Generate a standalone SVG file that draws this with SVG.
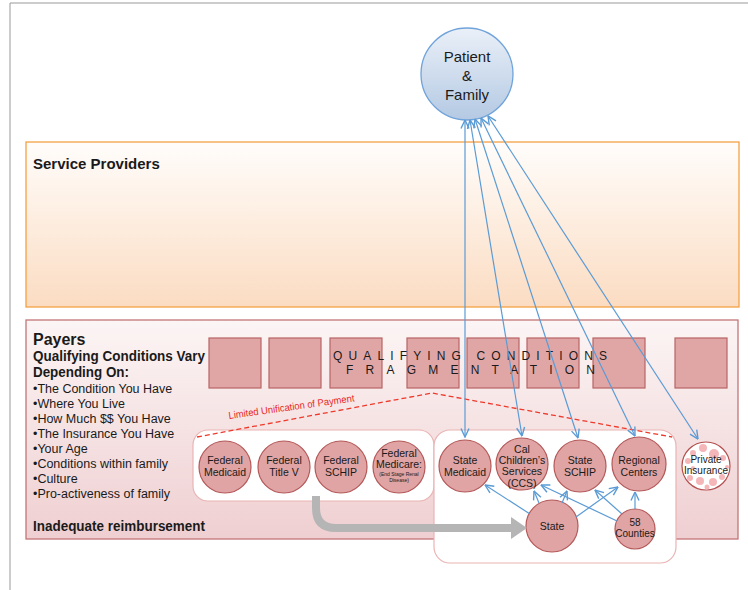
<svg xmlns="http://www.w3.org/2000/svg" width="748" height="590" viewBox="0 0 748 590">
<defs>
<linearGradient id="gPat" x1="0" y1="0" x2="0" y2="1"><stop offset="0" stop-color="#eaf0f8"/><stop offset="1" stop-color="#b4c9e3"/></linearGradient>
<linearGradient id="gSP" x1="0" y1="0" x2="0" y2="1"><stop offset="0" stop-color="#fffdfb"/><stop offset="1" stop-color="#fbdcc2"/></linearGradient>
<linearGradient id="gPay" x1="0" y1="0" x2="0" y2="1"><stop offset="0" stop-color="#fcf5f5"/><stop offset="1" stop-color="#efcfd1"/></linearGradient>
<marker id="ah" viewBox="0 0 10 10" refX="9.5" refY="5" markerWidth="10" markerHeight="10" orient="auto-start-reverse" markerUnits="userSpaceOnUse"><path d="M1,1 L9.5,5 L1,9" fill="none" stroke="#5b9bd5" stroke-width="1.4"/></marker>
<style>
text{font-family:"Liberation Sans",Arial,sans-serif;fill:#1a1a1a}
.c{fill:#e0a4a4;stroke:#b45858;stroke-width:1.2}
.sq{fill:#e0a6a6;stroke:#b86464;stroke-width:1.2}
.t{font-size:10.5px;text-anchor:middle}
.tiny{font-size:5px;text-anchor:middle}
.s10{font-size:10px;text-anchor:middle}
.b{font-weight:bold}
.bl{font-size:12.5px}
.ln{fill:none;stroke:#5b9bd5;stroke-width:1.2;marker-end:url(#ah)}
.ln2{fill:none;stroke:#5b9bd5;stroke-width:1.2;marker-start:url(#ah);marker-end:url(#ah)}
.box{fill:#fff;stroke:#eab4b4;stroke-width:1.2}
</style>
</defs>
<g id="frame"><path d="M10,590 L10,3 L748,3" fill="none" stroke="#999" stroke-width="1"/></g>

<g id="service-providers">
<rect x="26" y="142" width="713" height="165" fill="url(#gSP)" stroke="#f4a244" stroke-width="1.3"/>
<text x="33" y="169" class="b" font-size="15">Service Providers</text>
</g>

<g id="payers">
<rect x="26" y="320" width="712" height="219" fill="url(#gPay)" stroke="#c27676" stroke-width="1.3"/>
<text x="33" y="345" class="b" font-size="16">Payers</text>
<text x="33" y="361" class="b" font-size="14" textLength="172" lengthAdjust="spacingAndGlyphs">Qualifying Conditions Vary</text>
<text x="33" y="377" class="b" font-size="14" textLength="96" lengthAdjust="spacingAndGlyphs">Depending On:</text>
<text x="33" y="393" class="bl">•The Condition You Have</text>
<text x="33" y="408" class="bl">•Where You Live</text>
<text x="33" y="423" class="bl">•How Much $$ You Have</text>
<text x="33" y="438" class="bl">•The Insurance You Have</text>
<text x="33" y="453" class="bl">•Your Age</text>
<text x="33" y="468" class="bl">•Conditions within family</text>
<text x="33" y="483" class="bl">•Culture</text>
<text x="33" y="498" class="bl">•Pro-activeness of family</text>
<text x="33" y="531" class="b" font-size="14" textLength="172" lengthAdjust="spacingAndGlyphs">Inadequate reimbursement</text>
</g>

<g id="squares">
<rect class="sq" x="209" y="338" width="52" height="50"/>
<rect class="sq" x="269" y="338" width="52" height="50"/>
<rect class="sq" x="330" y="338" width="52" height="50"/>
<rect class="sq" x="407" y="338" width="52" height="50"/>
<rect class="sq" x="467" y="338" width="52" height="50"/>
<rect class="sq" x="527" y="338" width="52" height="50"/>
<rect class="sq" x="593" y="338" width="52" height="50"/>
<rect class="sq" x="675" y="338" width="52" height="50"/>
<text x="333" y="360" font-size="12" textLength="274" lengthAdjust="spacing">QUALIFYING CONDITIONS</text>
<text x="346" y="374" font-size="12" textLength="249" lengthAdjust="spacing">FRAGMENTATION</text>
</g>

<g id="federal-box"><rect class="box" x="193" y="430" width="241" height="71" rx="15"/></g>
<g id="state-box"><rect class="box" x="434" y="430" width="242" height="133" rx="16"/></g>

<g id="unification">
<path d="M197,437 L432,393 L672,437" fill="none" stroke="#ee3a2c" stroke-width="1.3" stroke-dasharray="5,3"/>
<text x="229" y="419" font-size="10" textLength="127" lengthAdjust="spacingAndGlyphs" transform="rotate(-8 229 419)" style="fill:#e8281e">Limited Unification of Payment</text>
</g>

<g id="federal-medicaid"><circle class="c" cx="225" cy="467" r="26"/><text class="t" x="225" y="464">Federal</text><text class="t" x="225" y="476">Medicaid</text></g>
<g id="federal-title-v"><circle class="c" cx="284" cy="467" r="26"/><text class="t" x="284" y="464">Federal</text><text class="t" x="284" y="476">Title V</text></g>
<g id="federal-schip"><circle class="c" cx="341" cy="467" r="26"/><text class="t" x="341" y="464">Federal</text><text class="t" x="341" y="476">SCHIP</text></g>
<g id="federal-medicare"><circle class="c" cx="399" cy="467" r="26"/><text class="t" x="399" y="457">Federal</text><text class="t" x="399" y="468">Medicare:</text><text class="tiny" x="399" y="476">(End Stage Renal</text><text class="tiny" x="399" y="482">Disease)</text></g>

<g id="state-medicaid"><circle class="c" cx="465" cy="466" r="26"/><text class="t" x="465" y="464">State</text><text class="t" x="465" y="476">Medicaid</text></g>
<g id="ccs"><circle class="c" cx="522" cy="464" r="26"/><text class="t" x="522" y="453">Cal</text><text class="t" x="522" y="464">Children’s</text><text class="t" x="522" y="475">Services</text><text class="t" x="522" y="487">(CCS)</text></g>
<g id="state-schip"><circle class="c" cx="580" cy="466" r="26"/><text class="t" x="580" y="464">State</text><text class="t" x="580" y="476">SCHIP</text></g>
<g id="regional-centers"><circle class="c" cx="639" cy="464" r="27"/><text class="t" x="639" y="464">Regional</text><text class="t" x="639" y="476">Centers</text></g>
<g id="state"><circle class="c" cx="552" cy="526" r="26"/><text class="t" x="552" y="530">State</text></g>
<g id="counties"><circle class="c" cx="635" cy="529" r="20"/><text class="s10" x="635" y="526">58</text><text class="s10" x="635" y="537">Counties</text></g>

<g id="private-insurance">
<circle cx="706" cy="466" r="24" fill="#fff" stroke="#b45050" stroke-width="1.2"/>
<g fill="#f4b6b8">
<circle cx="703" cy="448" r="4"/><circle cx="693" cy="453" r="3"/><circle cx="714" cy="454" r="5"/><circle cx="688" cy="461" r="3"/><circle cx="723" cy="458" r="3"/><circle cx="690" cy="478" r="3"/><circle cx="700" cy="481" r="4"/><circle cx="713" cy="482" r="4"/><circle cx="722" cy="477" r="3"/><circle cx="707" cy="487" r="2.5"/><circle cx="693" cy="468" r="2"/><circle cx="727" cy="467" r="2"/>
</g>
<text class="s10" x="706" y="463">Private</text><text class="s10" x="706" y="474">Insurance</text>
</g>

<g id="patient-family">
<circle cx="467" cy="74" r="46" fill="url(#gPat)" stroke="#6fa3da" stroke-width="1.3"/>
<text x="467" y="62" font-size="15" text-anchor="middle">Patient</text>
<text x="467" y="81" font-size="15" text-anchor="middle">&amp;</text>
<text x="467" y="100" font-size="15" text-anchor="middle">Family</text>
</g>

<g id="connectors">
<line class="ln2" x1="465" y1="120" x2="465" y2="437"/>
<line class="ln2" x1="470" y1="120" x2="522" y2="436"/>
<line class="ln2" x1="475" y1="119" x2="578" y2="438"/>
<line class="ln2" x1="481" y1="118" x2="635" y2="436"/>
<line class="ln2" x1="488" y1="116" x2="698" y2="439"/>
<line class="ln" x1="530" y1="514" x2="485" y2="485"/>
<line class="ln" x1="539" y1="503" x2="534" y2="491"/>
<line class="ln" x1="562" y1="503" x2="567" y2="491"/>
<line class="ln" x1="576" y1="517" x2="618" y2="487"/>
<line class="ln" x1="617" y1="521" x2="541" y2="485"/>
<line class="ln" x1="622" y1="514" x2="595" y2="490"/>
<line class="ln" x1="635" y1="509" x2="635" y2="492"/>
<g id="gray-arrow">
<path d="M316,496 L316,508 Q316,528 336,528 L512,528" fill="none" stroke="#b5b5b5" stroke-width="8"/>
<polygon points="511,517 527,528 511,539" fill="#b5b5b5"/>
</g>
</g>
</svg>
